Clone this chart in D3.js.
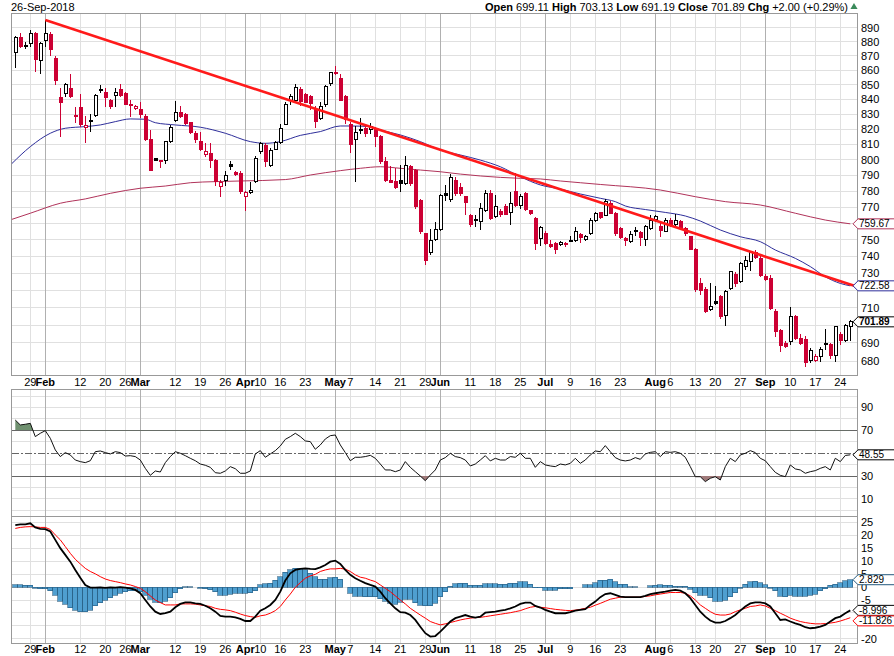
<!DOCTYPE html>
<html>
<head>
<meta charset="utf-8">
<script src="https://cdn.jsdelivr.net/npm/d3@7"></script>
<style>
  html, body { margin: 0; padding: 0; background: #fff; }
  svg { display: block; font-family: "Liberation Sans", Arial, sans-serif; }
</style>
</head>
<body>
<svg id="chart" width="894" height="656"></svg>
<script>
// daily candles, Jan 24 .. Sep 26 2018
var opens = [872.5, 883.1, 877, 878.4, 886, 866.4, 881.2, 885.3, 868.3, 841.4,
  844.1, 847.5, 829, 834.6, 821, 825, 829, 847, 844.8, 839.5,
  842.5, 846.8, 844.1, 836.6, 833.5, 832.8, 828.3, 812.9, 800.5, 799.5,
  799.4, 811.8, 825.9, 831, 829.5, 824.3, 817.3, 811.8, 803.1, 804.2,
  799.8, 782.8, 787, 797.2, 791.6, 791.3, 776.5, 779.2, 785.9, 805.2,
  809.4, 796.2, 806.8, 811.4, 823.3, 839.5, 839.5, 846.4, 843.6, 841.8,
  832.8, 827.3, 836.2, 851, 858.5, 854.4, 841.8, 822.8, 813.5, 820,
  820.6, 820, 820.6, 815, 798.7, 787, 786, 787, 784.9, 795.5,
  793.4, 774.4, 753.5, 742.5, 750.2, 756.3, 778.6, 774.9, 787, 782.4,
  776.5, 764.5, 762.5, 761.4, 767.6, 778.6, 764.1, 767.2, 770.2, 766.5,
  779.6, 770.7, 778.2, 767.6, 763.1, 750.8, 753.9, 747.4, 747.8, 746.8,
  747.8, 749.2, 749.4, 753, 750.2, 753.9, 762, 766.5, 765.1, 772.4,
  766.2, 756.9, 750.9, 748.8, 755.4, 754.3, 750.2, 757, 762.3, 758.3,
  755.2, 761.6, 759, 761, 757, 751.8, 743.8, 724.2, 720.7, 709,
  713.3, 716.3, 705.4, 720.9, 729.5, 725, 733.8, 736.8, 742.2, 738.8,
  728, 727, 708, 697.2, 689.8, 690.7, 704.8, 692.6, 692, 680.5,
  680.5, 682.4, 689.5, 689.2, 682.8, 694.9, 691.3, 699.11];
var highs = [884, 886, 879.5, 888, 887, 879.5, 895.5, 887, 870, 847.5,
  851, 857, 835, 843.7, 828.9, 829.9, 843.6, 849.5, 848, 840,
  847.5, 850.5, 845, 839.5, 835.9, 838, 830, 819.5, 801, 800,
  812.5, 822.5, 838.8, 835.5, 830.5, 825, 818.5, 818, 811, 811,
  800.5, 787, 793, 799.5, 793, 793, 780, 786, 802.5, 811.5,
  811, 807.5, 812, 823.5, 838.5, 843.5, 850.5, 848.2, 844.3, 843,
  835.5, 838, 850, 859, 862.7, 857, 843, 825, 822, 827.3,
  823, 824, 821.5, 816, 801.9, 796, 795, 796.6, 802.3, 796.6,
  794, 775, 754, 756.3, 761, 778, 783.8, 791, 789, 785,
  777, 766, 765.1, 772.5, 781, 781, 777.5, 769, 772, 779.5,
  791.5, 778.5, 779.5, 768, 764, 758.5, 755, 750, 748.5, 749.5,
  748.5, 752, 757.9, 754, 753, 763.5, 767, 767, 775.3, 774,
  767, 757.5, 751.5, 755, 758, 755, 759, 765, 765, 760,
  763, 763, 766, 762, 758, 752.5, 745, 727, 722, 724.5,
  722.6, 717, 720, 731.5, 730.5, 736.5, 740, 743, 744, 740,
  729.5, 729, 709, 698, 691, 710.5, 705.5, 695, 694, 687,
  684, 687.5, 698, 690, 699.5, 696, 700.5, 703.13];
var lows = [861.3, 875.4, 875, 876.5, 858.6, 857.4, 876, 869.9, 850, 815.1,
  841.6, 840.9, 824, 821.5, 811.2, 818, 828, 844.5, 834.6, 833.6,
  834.6, 841.8, 835.9, 828.2, 832.8, 827.5, 812.2, 793, 799, 795,
  797, 811, 825, 827.5, 823, 817, 811, 805.5, 802, 795,
  783.4, 776.1, 783, 793.5, 789.5, 778.5, 767.5, 778.5, 785, 804,
  795.5, 795.5, 806, 810.5, 822.5, 835.9, 838, 835.5, 837.3, 832.8,
  820.6, 826, 835, 849, 856.5, 839, 823.5, 804.6, 785.9, 817,
  814.7, 817, 808.5, 797, 785.9, 785, 781.2, 779.6, 784, 783.4,
  769, 753.5, 734.8, 741, 749, 755, 773.6, 773, 777, 777,
  765.1, 757.5, 757.9, 755.9, 767, 762, 763, 764, 765, 758.8,
  770, 769, 767.5, 765, 744, 746, 747, 745, 741.5, 746,
  745.5, 748.5, 748.8, 748, 749, 752.8, 761, 762.5, 764.5, 765.5,
  752.2, 750.5, 746.4, 748, 752.2, 746.4, 746.4, 756, 761, 751.5,
  754.5, 758, 758, 756, 752.5, 743.5, 719, 717, 707, 708,
  711.5, 703.5, 699.5, 720, 722, 724, 732, 731, 738.5, 728,
  725.5, 708.5, 693.3, 685, 687, 689, 691.5, 689, 676.5, 679,
  679.5, 679.5, 686, 681, 679.6, 689, 690.5, 691.19];
var closes = [883.1, 876.5, 877.3, 886, 867.1, 878.4, 886, 874.2, 853.2, 837.7,
  849.8, 841.8, 828.5, 822.8, 822.5, 825.5, 842.5, 846.4, 841.1, 835,
  844.8, 842.9, 836.6, 836.2, 835, 829.5, 812.9, 793.4, 799.8, 798.7,
  811.8, 821, 831, 828.3, 823.9, 817.7, 812.9, 806.8, 805.2, 799.8,
  785.9, 785.5, 790.2, 795.5, 790.8, 779.6, 779.4, 780.7, 800.9, 810.3,
  798.7, 805.9, 811.1, 820.6, 836.6, 841.8, 848.2, 838.4, 837.7, 837.3,
  825, 835, 848.6, 858.3, 858, 839.5, 826.1, 809.6, 817.7, 819,
  817.3, 821.7, 815, 798.7, 787, 785.5, 782.4, 784.9, 796.6, 784.9,
  770.2, 754.9, 737.8, 749.4, 755.9, 777, 777.4, 788.7, 778.6, 778.3,
  773, 759, 761.5, 769.3, 778.6, 763.1, 770.2, 765.7, 765.5, 772.4,
  770.7, 776.5, 768.6, 766.2, 747.8, 757.6, 747.8, 745.8, 743.8, 748.6,
  746.8, 749.6, 754.9, 751.4, 752.2, 762, 766.2, 763.6, 773.4, 766.2,
  753.9, 751.5, 749.4, 752.9, 754.9, 751.5, 757.9, 761.6, 764, 755.5,
  761.6, 759, 761.6, 757, 753.9, 743.8, 720.5, 720.1, 707.6, 710.5,
  712.6, 704.8, 719.5, 730.9, 724.1, 735.7, 737.8, 742.8, 739.4, 728.9,
  726.5, 709.6, 696.3, 688.8, 688, 704.8, 692.6, 689.8, 679, 686.1,
  682.4, 686.5, 689.2, 682.8, 699.1, 691.3, 699.89, 701.89];

// moving averages, sampled along the curves (candle index, value)
var ma50Idx = [-0.7, 3, 7, 10, 14, 17, 20, 23, 26, 28, 32, 37, 42, 47, 50, 53, 57, 61, 65, 67,
  71, 73, 77, 81, 85, 89, 93, 97, 101, 105, 109, 113, 117, 120, 122, 126, 130, 134, 137, 141,
  145, 149, 152, 156, 159, 162, 165, 167];
var ma50 = [797.5, 808.5, 817.3, 820.6, 821.7, 822.8, 825, 826.8, 826.6, 824.3, 822.8, 821.3, 817.3, 811.8, 810.7, 811.8, 815.9, 818.4, 822.1, 822.1,
  821.7, 819.5, 816.2, 811.8, 806.3, 803.1, 799.8, 795.5, 789.1, 783.9, 781.3, 778.2, 775.5, 773.4, 770.7, 768.5, 766.7, 764.5, 761.4, 755.9,
  751.8, 748.8, 743.8, 738.8, 733.9, 727.9, 724, 722.58];
var ma200Idx = [-0.7, 3, 9, 14, 19, 25, 30, 35, 40, 45, 54, 59, 65, 69, 73, 77, 81, 85, 89, 93,
  97, 101, 105, 109, 113, 117, 129, 136, 142, 149, 156, 162, 167];
var ma200 = [762.4, 766.2, 772.4, 775.1, 778.6, 781.8, 783.2, 785.3, 786, 786.4, 787.3, 790.2, 793, 794.5, 795.5, 794.5, 793.4, 792.3, 790.8, 789.6,
  788.7, 788.1, 787.7, 786.4, 785.3, 784.2, 780.7, 776.5, 773.4, 771.3, 766.2, 762, 759.67];

// hand drawn trend line (candle index, price)
var trendIdx = [6, 168.4];
var trendVal = [895.5, 722];

var rsi = [79, 74.7, 75.3, 76.1, 64.5, 67.4, 69.7, 63, 52.8, 47,
  50.5, 48.4, 44, 42.6, 41.7, 43.4, 51.3, 51.9, 50.5, 49.3,
  51.3, 50.5, 47.5, 47.8, 47, 44, 36.7, 30.6, 34.4, 33.5,
  41.7, 47, 51.3, 49.9, 47.8, 45.5, 43.4, 40.5, 39.4, 37.6,
  32.9, 32.4, 34.4, 38.2, 36.4, 32.4, 32.4, 34.4, 49.3, 52.2,
  46.4, 49.3, 52.2, 56.3, 62.1, 64.5, 67.4, 64.5, 60.7, 60.1,
  53.4, 57.2, 62.4, 65.3, 65.9, 57.2, 50.5, 43.4, 46.4, 46.4,
  47, 48.1, 45.5, 40.5, 35.3, 35.3, 33.8, 35.3, 42.6, 37.6,
  33.8, 30, 25.9, 30.9, 35.3, 44, 46.1, 49.9, 47, 46.1,
  44, 38.8, 40.5, 44, 47.8, 43.2, 45.5, 44, 44, 47,
  46.4, 49.9, 45.5, 45.5, 37.6, 42.6, 39.7, 38.8, 38.2, 40.5,
  39.7, 41.1, 45.5, 41.1, 44, 48.4, 51.9, 51.3, 56.6, 51.3,
  46.1, 44, 43.2, 44, 46.1, 44.6, 49.3, 50.7, 51.3, 47,
  51.3, 50.7, 51.3, 49.9, 46.4, 38.2, 29.4, 29.4, 25.1, 28,
  29.4, 26.5, 38.2, 45.5, 42.6, 48.4, 49.9, 52.2, 50.5, 45.5,
  43.4, 38.2, 33.2, 30.6, 29.4, 39.7, 36.2, 35.3, 32.4, 33.8,
  34.7, 36.7, 38.2, 35.3, 45.5, 42.6, 48, 48.55];

var macd = [23.9, 24.2, 24.2, 24.6, 23.0, 22.4, 22.3, 21.4, 18.2, 15.0,
  12.4, 9.8, 6.6, 3.6, 0.8, -0.2, -0.2, -0.1, -0.3, -0.1,
  -0.2, 0, -0.2, -0.5, -1.1, -2.4, -5.0, -7.5, -9.5, -10.4,
  -10.1, -9.5, -7.8, -6.5, -5.9, -5.9, -6.3, -6.5, -7.2, -8.2,
  -9.5, -11.1, -11.4, -11.4, -11.7, -12.3, -13.1, -13.1, -11.4, -9.1,
  -8.2, -6.9, -5.0, -1.8, 2.5, 5.3, 6.6, 7.0, 7.2, 7.0,
  6.9, 7.6, 8.5, 9.8, 10.2, 8.9, 6.6, 4.7, 3.4, 2.4,
  1.5, 0.8, 0.2, -1.8, -4.3, -6.3, -8.2, -9.7, -9.9, -10.8,
  -12.7, -15.3, -17.8, -19.1, -18.9, -17.2, -15.3, -13.3, -12.0, -11.4,
  -10.8, -11.4, -11.8, -11.4, -9.9, -9.7, -9.5, -9.1, -8.8, -8.2,
  -7.5, -6.5, -6.0, -6.0, -7.3, -7.9, -8.8, -9.5, -10.1, -10.1,
  -10.1, -9.7, -9.1, -8.8, -8.5, -6.9, -5.6, -3.9, -2.7, -2.4,
  -3.0, -3.7, -3.9, -3.9, -3.9, -3.9, -3.4, -2.7, -2.4, -2.1,
  -1.8, -1.4, -1.1, -1.4, -2.4, -4.3, -6.9, -9.5, -11.4, -12.9,
  -13.7, -13.7, -13.1, -12.0, -10.8, -9.1, -7.5, -6.3, -5.9, -5.9,
  -6.3, -7.5, -10.1, -12.7, -12.5, -13.3, -14.0, -14.6, -15.5, -15.9,
  -15.7, -15.3, -14.6, -13.3, -12.0, -11.4, -10.1, -8.996];
var signal = [22.6, 23.0, 23.2, 23.3, 23.2, 23.0, 23.0, 22.2, 20.1, 18.2,
  15.6, 13.0, 10.7, 8.9, 7.2, 6.0, 5.1, 4.0, 3.1, 2.5,
  2.1, 1.7, 1.2, 0.8, 0.2, -0.5, -1.8, -3.4, -5.0, -6.0,
  -6.9, -6.9, -6.9, -6.5, -6.5, -6.5, -6.6, -6.9, -7.2, -7.5,
  -8.2, -8.6, -8.8, -9.1, -9.7, -10.4, -11.0, -11.4, -11.7, -11.1,
  -10.8, -10.1, -9.1, -7.5, -5.0, -2.7, -0.1, 1.7, 3.4, 4.3,
  4.9, 6.0, 6.6, 7.0, 7.0, 7.2, 6.9, 6.0, 4.7, 3.8,
  3.4, 2.7, 2.1, 0.8, -0.5, -1.8, -3.4, -5.0, -6.5, -8.2,
  -9.5, -10.8, -12.0, -13.3, -14.0, -14.6, -14.2, -13.7, -13.2, -12.7,
  -12.3, -12.0, -11.8, -11.7, -11.4, -11.1, -10.8, -10.5, -10.2, -9.9,
  -9.5, -9.1, -8.4, -7.8, -7.5, -7.8, -8.0, -8.3, -8.6, -8.8,
  -9.0, -9.1, -8.9, -8.6, -8.2, -7.8, -7.0, -6.3, -5.5, -4.7,
  -4.3, -3.9, -3.9, -3.9, -3.9, -3.9, -3.6, -3.4, -3.0, -2.7,
  -2.4, -2.1, -2.1, -2.1, -2.4, -3.4, -5.0, -6.9, -8.2, -9.5,
  -10.5, -10.8, -10.8, -10.4, -9.5, -8.8, -8.2, -7.5, -7.3, -6.9,
  -7.3, -8.2, -9.1, -10.1, -11.0, -12.0, -12.7, -13.3, -13.7, -14.0,
  -14.2, -14.2, -14.1, -13.9, -13.6, -13.1, -12.5, -11.826];
var hist = [0.8, 0.8, 0.7, 0.6, -0.4, -0.6, -0.7, -1.5, -3.2, -5.4,
  -6.7, -8.0, -8.9, -9.6, -9.6, -8.9, -7.3, -6.0, -5.0, -4.1,
  -3.2, -2.4, -1.9, -1.5, -1.5, -1.9, -3.2, -4.8, -5.8, -6.0,
  -5.4, -4.1, -2.2, -0.6, 0.2, 0.2, 0, -0.4, -0.6, -1.1,
  -1.9, -3.2, -3.2, -2.8, -2.4, -2.4, -2.4, -2.2, -1.5, 0.8,
  1.2, 1.5, 2.6, 3.9, 5.7, 6.7, 7.2, 7.2, 6.7, 5.4,
  3.9, 3.1, 3.1, 3.5, 3.7, 3.1, 0, -2.4, -3.5, -3.5,
  -3.7, -3.7, -3.7, -4.5, -5.4, -6.3, -6.7, -5.8, -4.8, -4.8,
  -6.0, -7.1, -7.3, -7.3, -6.3, -3.8, -1.8, 0.3, 1.3, 1.5,
  1.5, 0.6, 0.6, 0.6, 1.2, 1.2, 1.2, 1.0, 1.0, 1.5,
  1.5, 2.0, 2.0, 1.0, -0.2, -0.2, -1.2, -1.2, -1.2, -0.6,
  -0.6, -0.6, 0, 0, 0.8, 0.8, 1.7, 2.7, 2.7, 3.0,
  2.1, 1.1, 1.1, 0.2, 0.2, 0, 0, 0.5, 0.7, 0.8,
  0.7, 0.6, 0.3, 0.3, 0.3, -0.9, -2.2, -3.2, -3.2, -4.1,
  -5.4, -5.4, -5.0, -3.8, -2.2, -0.5, 1.0, 2.1, 2.3, 1.7,
  0.8, -0.5, -1.5, -3.5, -3.7, -3.2, -3.5, -3.5, -3.5, -3.2,
  -2.8, -1.5, -0.6, 0.6, 1.0, 1.7, 2.5, 2.829];

// date axis: candle index of each label
var tickIdx = [3, 6, 13, 18, 22, 25, 32, 37, 42, 46, 49, 53, 58, 64, 67, 72, 77, 82, 85, 91,
  96, 101, 106, 111, 116, 121, 128, 131, 136, 140, 145, 150, 155, 160, 165];
var tickText = ["29", "Feb", "12", "20", "26", "Mar", "12", "19", "26", "Apr", "10", "16", "23", "May", "7", "14", "21", "29", "Jun", "11",
  "18", "25", "Jul", "9", "16", "23", "Aug", "6", "13", "20", "27", "Sep", "10", "17", "24"];
var priceTicks = [680, 690, 700, 710, 720, 730, 740, 750, 760, 770, 780, 790, 800, 810, 820, 830, 840, 850, 860, 870, 880, 890];
var rsiTicks = [10, 30, 50, 70, 90];
var macdTicks = [-20, -15, -10, -5, 0, 5, 10, 15, 20, 25];

var svg = d3.select("#chart");
var RED = "#cc0033";

var x = d3.scaleLinear().domain([-0.72, 168.4]).range([11.7, 857.3]);
var yP = d3.scaleLog().domain([672.4, 900.4]).range([375, 13.3]);
var yR = d3.scaleLinear().domain([-5, 105.9]).range([516, 389.3]);
var yM = d3.scaleLinear().domain([-21.7, 27.4]).range([643.3, 516]);

var L = 11.7, R = 857.3;
var panels = [[13.3, 375], [389.3, 516], [516, 643.3]];

// grid
var grid = svg.append("g").attr("shape-rendering", "crispEdges");
function hline(y, color, dash) {
  grid.append("line").attr("x1", L).attr("x2", R).attr("y1", y).attr("y2", y)
    .attr("stroke", color).attr("stroke-dasharray", dash || null);
}
priceTicks.forEach(function (p) { hline(yP(p), "#e0e0e0"); });
d3.range(0, 101, 10).forEach(function (v) {
  if (v !== 30 && v !== 50 && v !== 70) hline(yR(v), "#e0e0e0");
});
macdTicks.forEach(function (v) { hline(yM(v), "#e0e0e0"); });

panels.forEach(function (p) {
  tickIdx.forEach(function (t, k) {
    var month = /^[A-Z]/.test(tickText[k]);
    grid.append("line").attr("x1", x(t)).attr("x2", x(t)).attr("y1", p[0]).attr("y2", p[1])
      .attr("stroke", month ? "#b0b0b0" : "#e0e0e0");
  });
});
hline(yR(70), "#666");
hline(yR(30), "#666");
hline(yR(50), "#666", "7,2,2,2");

// panel frames
panels.forEach(function (p) {
  grid.append("rect").attr("x", L).attr("y", p[0]).attr("width", R - L).attr("height", p[1] - p[0])
    .attr("fill", "none").attr("stroke", "#999");
});
grid.append("line").attr("x1", L).attr("x2", R).attr("y1", 389.3).attr("y2", 389.3)
  .attr("stroke", "#999").attr("stroke-dasharray", "1,1");

// date labels
[386, 653].forEach(function (yy) {
  svg.append("g").selectAll("text").data(tickIdx).join("text")
    .attr("x", function (d) { return x(d); }).attr("y", yy)
    .attr("text-anchor", "middle").attr("font-size", 11)
    .attr("font-weight", function (d, k) { return /^[A-Z]/.test(tickText[k]) ? "bold" : "normal"; })
    .text(function (d, k) { return tickText[k]; });
});

// value tags on the right edge (they cover the axis labels under them)
var n = closes.length - 1;
var tags = [
  { y: yP(ma200[ma200.length - 1]), t: ma200[ma200.length - 1].toFixed(2), c: "#b0335a" },
  { y: yP(ma50[ma50.length - 1]), t: ma50[ma50.length - 1].toFixed(2), c: "#2e2e9a" },
  { y: yP(closes[n]), t: closes[n].toFixed(2), c: "#000", b: true },
  { y: yR(rsi[rsi.length - 1]), t: rsi[rsi.length - 1].toFixed(2), c: "#000" },
  { y: yM(hist[hist.length - 1]), t: hist[hist.length - 1].toFixed(3), c: "#245a7e" },
  { y: yM(macd[macd.length - 1]), t: macd[macd.length - 1].toFixed(3), c: "#000" }
];
// signal tag sits just below the MACD tag
tags.push({ y: Math.max(yM(signal[signal.length - 1]), tags[5].y + 10.5), t: signal[signal.length - 1].toFixed(3), c: "#ff0000" });

function axisLabels(vals, scale) {
  var keep = vals.filter(function (v) {
    return tags.every(function (tg) { return Math.abs(scale(v) - tg.y) > 5.5; });
  });
  svg.append("g").selectAll("text").data(keep).join("text")
    .attr("x", 861).attr("y", function (d) { return scale(d) + 4; })
    .attr("font-size", 11).text(function (d) { return d; });
}
axisLabels(priceTicks, yP);
axisLabels(rsiTicks, yR);
axisLabels(macdTicks, yM);

// clip for price panel
svg.append("clipPath").attr("id", "clipMain").append("rect")
  .attr("x", L).attr("y", 13.3).attr("width", R - L).attr("height", 375 - 13.3);

var lineFn = function (scale) {
  return d3.line().x(function (d) { return x(d[0]); }).y(function (d) { return scale(d[1]); })
    .curve(d3.curveMonotoneX);
};
var main = svg.append("g").attr("clip-path", "url(#clipMain)");
main.append("path").attr("d", lineFn(yP)(d3.zip(ma200Idx, ma200)))
  .attr("fill", "none").attr("stroke", "#b0335a").attr("stroke-width", 1);
main.append("path").attr("d", lineFn(yP)(d3.zip(ma50Idx, ma50)))
  .attr("fill", "none").attr("stroke", "#2e2e9a").attr("stroke-width", 1);

// candles
var candles = closes.map(function (c, i) {
  return { i: i, o: opens[i], h: highs[i], l: lows[i], c: c, prev: i ? closes[i - 1] : opens[i] };
});
var cg = main.append("g").attr("shape-rendering", "crispEdges");
cg.selectAll("line").data(candles).join("line")
  .attr("x1", function (d) { return Math.round(x(d.i)) + 0.5; })
  .attr("x2", function (d) { return Math.round(x(d.i)) + 0.5; })
  .attr("y1", function (d) { return yP(d.h); })
  .attr("y2", function (d) { return yP(d.l); })
  .attr("stroke", function (d) { return d.c >= d.prev ? "#000" : RED; });
cg.selectAll("rect").data(candles).join("rect")
  .attr("x", function (d) { return Math.round(x(d.i)) - 1; })
  .attr("width", 3)
  .attr("y", function (d) { return yP(Math.max(d.o, d.c)); })
  .attr("height", function (d) { return Math.max(1, yP(Math.min(d.o, d.c)) - yP(Math.max(d.o, d.c))); })
  .attr("stroke", function (d) { return d.c >= d.prev ? "#000" : RED; })
  .attr("fill", function (d) {
    if (d.c >= d.o) return "#fff";
    return d.c >= d.prev ? "#000" : RED;
  });

// trend line
main.append("path").attr("d", d3.line().x(function (d) { return x(d[0]); }).y(function (d) { return yP(d[1]); })(d3.zip(trendIdx, trendVal)))
  .attr("stroke", "#ff1a1a").attr("stroke-width", 2.6).attr("fill", "none");

// RSI
var rsiPts = rsi.map(function (v, i) { return [i, v]; });
svg.append("clipPath").attr("id", "clipHi").append("rect")
  .attr("x", L).attr("y", 389.3).attr("width", R - L).attr("height", yR(70) - 389.3);
svg.append("clipPath").attr("id", "clipLo").append("rect")
  .attr("x", L).attr("y", yR(30)).attr("width", R - L).attr("height", 516 - yR(30));
svg.append("path").attr("clip-path", "url(#clipHi)")
  .attr("d", d3.area().x(function (d) { return x(d[0]); }).y0(yR(70)).y1(function (d) { return yR(d[1]); })(rsiPts))
  .attr("fill", "#6f906f");
svg.append("path").attr("clip-path", "url(#clipLo)")
  .attr("d", d3.area().x(function (d) { return x(d[0]); }).y0(yR(30)).y1(function (d) { return yR(d[1]); })(rsiPts))
  .attr("fill", "#a07a7a");
svg.append("path").attr("d", d3.line().x(function (d) { return x(d[0]); }).y(function (d) { return yR(d[1]); })(rsiPts))
  .attr("fill", "none").attr("stroke", "#111").attr("stroke-width", 1);

// MACD
svg.append("g").attr("shape-rendering", "crispEdges").selectAll("rect").data(hist).join("rect")
  .attr("x", function (d, i) { return x(i) - 2.5; }).attr("width", 5)
  .attr("y", function (d) { return Math.min(yM(d), yM(0)); })
  .attr("height", function (d) { return Math.abs(yM(d) - yM(0)); })
  .attr("fill", "#4f9fd0").attr("stroke", "#245a7e").attr("stroke-width", 0.6);
svg.append("path").attr("d", d3.line().x(function (d, i) { return x(i); }).y(function (d) { return yM(d); })(signal))
  .attr("fill", "none").attr("stroke", "#ff0000").attr("stroke-width", 1);
svg.append("path").attr("d", d3.line().x(function (d, i) { return x(i); }).y(function (d) { return yM(d); })(macd))
  .attr("fill", "none").attr("stroke", "#000").attr("stroke-width", 1.8);

// draw the tags
tags.forEach(function (tg) {
  var g = svg.append("g").attr("transform", "translate(853," + tg.y + ")");
  g.append("path").attr("d", "M0,0 L5,-5 L46,-5 L46,5 L5,5 Z")
    .attr("fill", "#fff").attr("stroke", tg.c).attr("stroke-width", 1);
  g.append("text").attr("x", 6).attr("y", 3.6).attr("font-size", 10)
    .attr("font-weight", tg.b ? "bold" : "normal").text(tg.t);
});

// header
svg.append("text").attr("x", 11).attr("y", 11).attr("font-size", 11).text("26-Sep-2018");
var chg = closes[n] - closes[n - 1];
var hdr = svg.append("text").attr("x", 848).attr("y", 11).attr("font-size", 11).attr("text-anchor", "end");
[["Open", opens[n].toFixed(2)], ["High", highs[n].toFixed(2)], ["Low", lows[n].toFixed(2)],
 ["Close", closes[n].toFixed(2)],
 ["Chg", (chg >= 0 ? "+" : "") + chg.toFixed(2) + " (" + (chg >= 0 ? "+" : "") + (chg / closes[n - 1] * 100).toFixed(2) + "%)"]]
  .forEach(function (p, k) {
    hdr.append("tspan").attr("font-weight", "bold").text((k ? "  " : "") + p[0] + " ");
    hdr.append("tspan").text(p[1]);
  });
svg.append("path").attr("d", d3.symbol(d3.symbolTriangle, 22)())
  .attr("transform", "translate(854,7)").attr("fill", "#3a8a5a");
</script>
</body>
</html>
